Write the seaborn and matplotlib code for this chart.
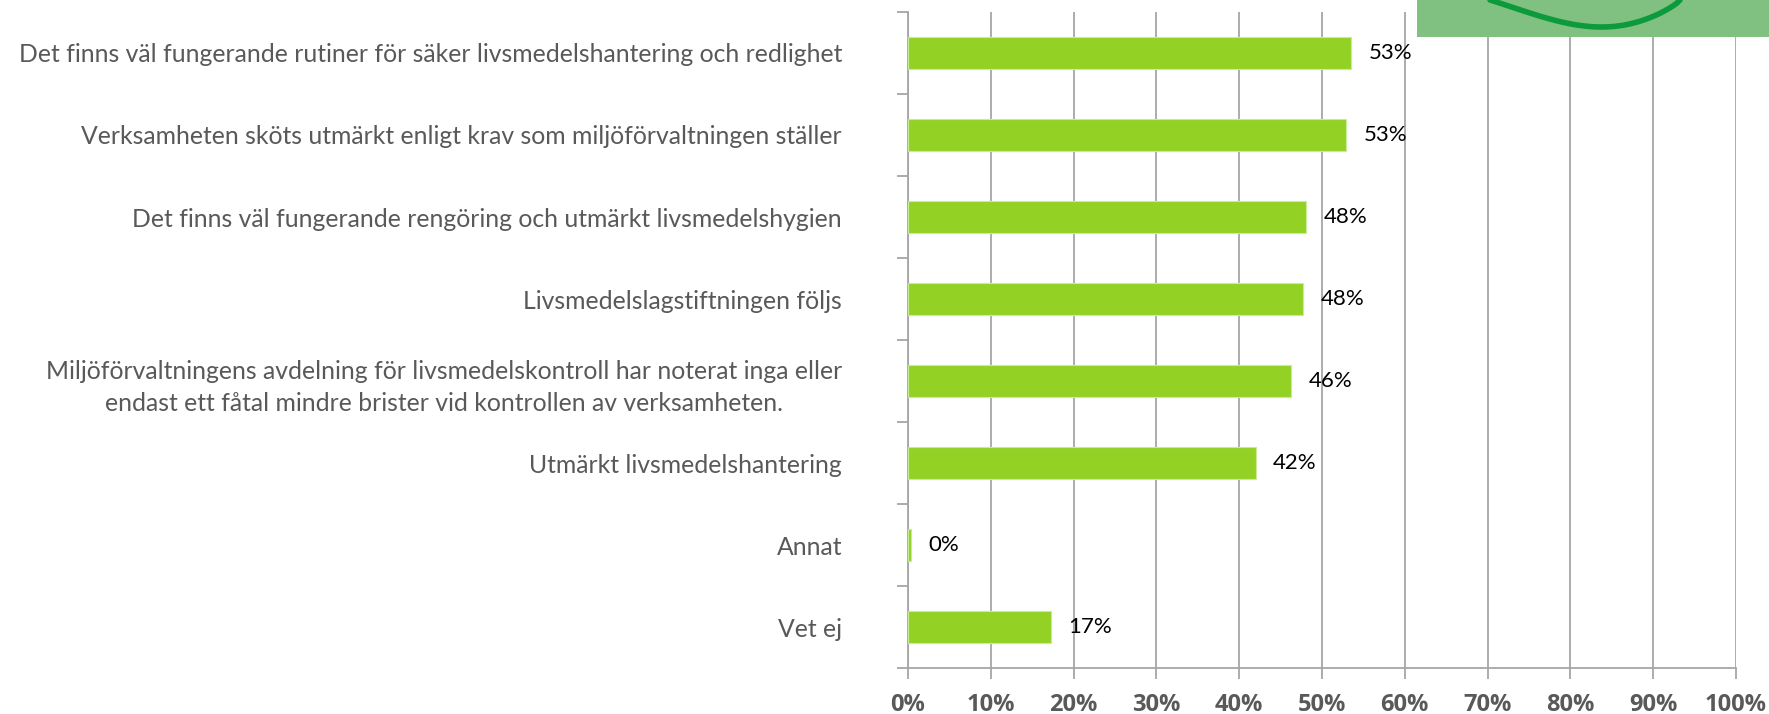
import pandas as pd
import numpy as np
import matplotlib.pyplot as plt
import seaborn as sns
from matplotlib.patches import Rectangle

# Survey answers (share of respondents, %)
statements = [
    "Det finns väl fungerande rutiner för säker livsmedelshantering och redlighet",
    "Verksamheten sköts utmärkt enligt krav som miljöförvaltningen ställer",
    "Det finns väl fungerande rengöring och utmärkt livsmedelshygien",
    "Livsmedelslagstiftningen följs",
    "Miljöförvaltningens avdelning för livsmedelskontroll har noterat inga eller\nendast ett fåtal mindre brister vid kontrollen av verksamheten.",
    "Utmärkt livsmedelshantering",
    "Annat",
    "Vet ej",
]
shares = [53.5, 52.9, 48.1, 47.7, 46.3, 42.0, 0.3, 17.3]
share_labels = ["53%", "53%", "48%", "48%", "46%", "42%", "0%", "17%"]
x_ticks = [0, 10, 20, 30, 40, 50, 60, 70, 80, 90, 100]
x_tick_labels = ["0%", "10%", "20%", "30%", "40%", "50%", "60%", "70%", "80%", "90%", "100%"]

df = pd.DataFrame({"statement": statements, "share": shares})

sns.set_style("white")
plt.rcParams['font.family'] = ['Lato', 'DejaVu Sans']

grey_txt = "#595959"
grid_col = "#a6a6a6"

fig = plt.figure(figsize=(17.69, 7.14), dpi=100)
ax = fig.add_axes([0.5133, 0.0644, 0.468, 0.9188])

sns.barplot(data=df, x="share", y="statement", orient="h", color="#93d125",
            saturation=1, width=0.39, edgecolor="#c8ec9a", linewidth=0.8,
            ax=ax, zorder=3)

ax.set_xlim(0, 100)
ax.set_ylim(7.5, -0.5)
ax.set_xticks(x_ticks)
ax.set_xticklabels(x_tick_labels, fontweight="bold", family=["Open Sans", "DejaVu Sans"])
ax.grid(axis="x", color=grid_col, linewidth=1.3, zorder=0)
ax.grid(axis="y", visible=False)
ax.set_xlabel("")
ax.set_ylabel("")

for s in ["top", "right"]:
    ax.spines[s].set_visible(False)
for s in ["left", "bottom"]:
    ax.spines[s].set_color(grid_col)
    ax.spines[s].set_linewidth(1.3)

# category boundary ticks on the left
ax.set_yticks(np.arange(-0.5, 8.0, 1.0), minor=True)
ax.tick_params(axis="y", which="minor", left=True, length=8, color=grid_col, width=1.3)
ax.tick_params(axis="y", which="major", left=False, pad=44, labelsize=17.8, labelcolor=grey_txt)
for lab in ax.get_yticklabels():
    lab.set_horizontalalignment("right")
    lab.set_multialignment("center")
    lab.set_linespacing(1.45)
ax.tick_params(axis="x", bottom=True, length=8, color=grid_col, width=1.3,
               labelsize=17, labelcolor=grey_txt, pad=10)

# value labels
for i, (v, t) in enumerate(zip(shares, share_labels)):
    ax.text(v + 2.1, i, t, va="center", ha="left", fontsize=16, color="black", zorder=4)

# logo corner
fig.add_artist(Rectangle((1417 / 1769, 1 - 37 / 714), 352 / 1769, 37 / 714,
                         transform=fig.transFigure, facecolor="#80c080",
                         edgecolor="none", zorder=5))
tt = np.linspace(0, 1, 60)
sx = 1490 + 190 * tt
sy = 714 - 27 * np.sin(np.pi * tt ** 1.3) ** 0.8
fig.add_artist(plt.Line2D(sx / 1769, sy / 714, transform=fig.transFigure,
                          color="#0b9a3c", linewidth=4, zorder=6))

fig.savefig("out.png", dpi=100)
